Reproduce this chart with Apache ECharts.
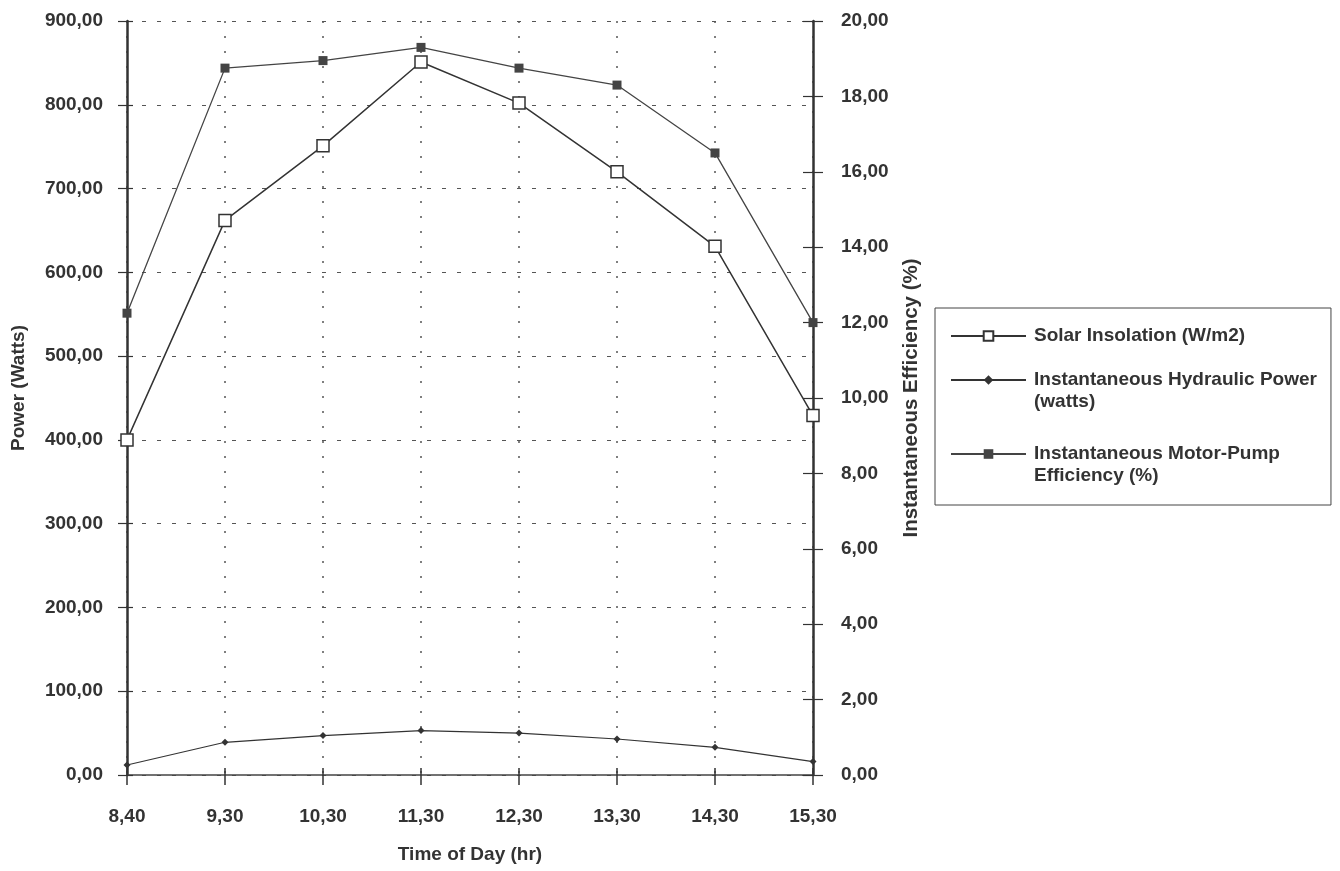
<!DOCTYPE html>
<html><head><meta charset="utf-8">
<script src="https://cdn.jsdelivr.net/npm/echarts@6/dist/echarts.min.js"></script>
<style>html,body{margin:0;padding:0;background:#fff}#c{width:1340px;height:871px}</style>
</head><body><div id="c"></div>
<script>
// ---- data ----
const categories = ['8,40', '9,30', '10,30', '11,30', '12,30', '13,30', '14,30', '15,30'];
const solarInsolation = [400, 662, 751, 851, 802, 720, 631, 429];          // W/m2 (left axis)
const hydraulicPower = [12, 39, 47, 53, 50, 43, 33, 16];                    // watts (left axis)
const motorPumpEfficiency = [12.25, 18.75, 18.95, 19.3, 18.75, 18.3, 16.5, 12.0]; // % (right axis)
const powerAxis = { min: 0, max: 900, interval: 100 };
const efficiencyAxis = { min: 0, max: 20, interval: 2 };
const seriesNames = ['Solar Insolation (W/m2)', 'Instantaneous Hydraulic Power\n(watts)', 'Instantaneous Motor-Pump\nEfficiency (%)'];

const FONT = "'Liberation Sans', Arial, sans-serif";
const TXT = '#333';
const fmt = v => v.toFixed(2).replace('.', ',');
const labelStyle = { color: TXT, fontFamily: FONT, fontWeight: 'bold', fontSize: 19 };
const nameStyle = { color: TXT, fontFamily: FONT, fontWeight: 'bold', fontSize: 19 };

const chart = echarts.init(document.getElementById('c'), null, { renderer: 'canvas' });
chart.setOption({
  backgroundColor: '#fff',
  animation: false,
  grid: { left: 127, right: 527, top: 21, bottom: 96 },
  legend: {
    left: 935, top: 308, orient: 'vertical',
    padding: [17, 14, 10, 15],
    itemGap: 0, itemWidth: 75, itemHeight: 12,
    borderColor: '#444', borderWidth: 1, backgroundColor: '#fff',
    // a leading blank line keeps the icon level with the first text line
    formatter: name => name.indexOf('\n') >= 0 ? '\n' + name : name,
    textStyle: { color: TXT, fontFamily: FONT, fontWeight: 'bold', fontSize: 19, lineHeight: 22, padding: [0, 0, 0, 3] },
    data: [
      { name: seriesNames[0] },
      { name: seriesNames[1] },
      { name: seriesNames[2], textStyle: { padding: [8, 0, 8, 3] } }
    ]
  },
  xAxis: [{
    type: 'category', data: categories, boundaryGap: false,
    name: 'Time of Day (hr)', nameLocation: 'middle', nameGap: 70, nameTextStyle: nameStyle,
    axisLine: { lineStyle: { color: '#444', width: 1.5 } },
    axisTick: { show: true, length: 10, lineStyle: { color: '#333', width: 1.5 } },
    axisLabel: Object.assign({ margin: 32 }, labelStyle),
    splitLine: { show: true, lineStyle: { color: '#555', width: 1.5, type: [2, 13] } }
  }, {
    type: 'category', data: categories, boundaryGap: false, position: 'bottom',
    axisLine: { show: false }, axisLabel: { show: false }, splitLine: { show: false },
    axisTick: { show: true, inside: true, length: 7, lineStyle: { color: '#333', width: 1.5 } }
  }],
  yAxis: [{
    type: 'value', min: powerAxis.min, max: powerAxis.max, interval: powerAxis.interval, position: 'left',
    name: 'Power (Watts)', nameLocation: 'middle', nameGap: 99, nameRotate: 90,
    nameTextStyle: Object.assign({ padding: [0, 0, 0, 20] }, nameStyle),
    axisLine: { show: true, lineStyle: { color: '#333', width: 2.5 } },
    axisTick: { show: true, length: 9, lineStyle: { color: '#333', width: 1.2 } },
    axisLabel: Object.assign({ margin: 24, formatter: fmt }, labelStyle),
    splitLine: { show: true, lineStyle: { color: '#555', width: 1.2, type: [4, 11] } }
  }, {
    type: 'value', min: efficiencyAxis.min, max: efficiencyAxis.max, interval: efficiencyAxis.interval, position: 'right',
    name: 'Instantaneous Efficiency (%)', nameLocation: 'middle', nameGap: 88, nameRotate: 90,
    nameTextStyle: Object.assign({}, nameStyle, { fontSize: 20.5 }),
    axisLine: { show: true, lineStyle: { color: '#333', width: 2.5 } },
    axisTick: { show: true, length: 10, lineStyle: { color: '#333', width: 1.2 } },
    axisLabel: Object.assign({ margin: 28, formatter: fmt }, labelStyle),
    splitLine: { show: false }
  }, {
    type: 'value', min: powerAxis.min, max: powerAxis.max, interval: powerAxis.interval, position: 'left',
    axisLine: { show: false }, axisLabel: { show: false }, splitLine: { show: false },
    axisTick: { show: true, inside: true, length: 6, lineStyle: { color: '#333', width: 1.2 } }
  }, {
    type: 'value', min: efficiencyAxis.min, max: efficiencyAxis.max, interval: efficiencyAxis.interval, position: 'right',
    axisLine: { show: false }, axisLabel: { show: false }, splitLine: { show: false },
    axisTick: { show: true, inside: true, length: 10, lineStyle: { color: '#333', width: 1.2 } }
  }],
  series: [{
    name: seriesNames[0], type: 'line', yAxisIndex: 0, data: solarInsolation,
    symbol: 'rect', symbolSize: 12, z: 3,
    lineStyle: { color: '#333', width: 1.5 },
    itemStyle: { color: '#fff', borderColor: '#333', borderWidth: 1.5 }
  }, {
    name: seriesNames[1], type: 'line', yAxisIndex: 0, data: hydraulicPower,
    symbol: 'diamond', symbolSize: 7,
    lineStyle: { color: '#333', width: 1.1 },
    itemStyle: { color: '#333', borderWidth: 0 }
  }, {
    name: seriesNames[2], type: 'line', yAxisIndex: 1, data: motorPumpEfficiency,
    symbol: 'rect', symbolSize: 9,
    lineStyle: { color: '#444', width: 1.3 },
    itemStyle: { color: '#444', borderWidth: 0 }
  }]
});
</script>
</body></html>
